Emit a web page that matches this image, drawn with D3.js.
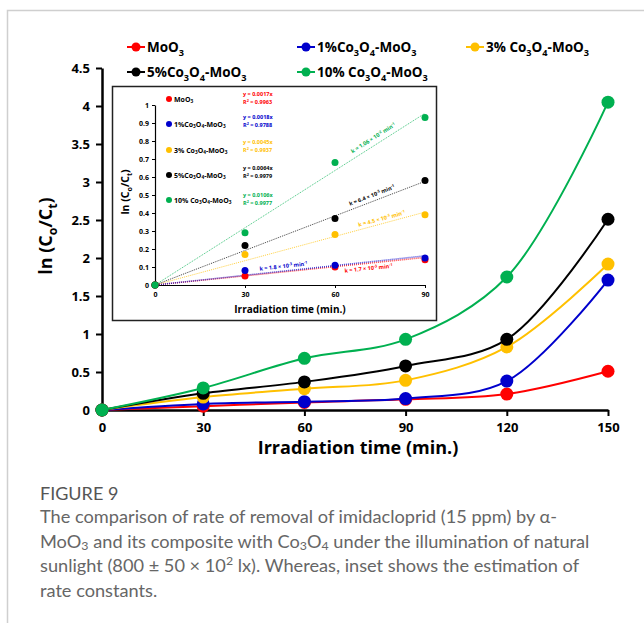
<!DOCTYPE html>
<html>
<head>
<meta charset="utf-8">
<script src="https://cdn.jsdelivr.net/npm/d3@7/dist/d3.min.js"></script>
<style>
  body { margin: 0; background: #fff; }
</style>
</head>
<body>
<div id="chart"></div>
<script>
    // data
    var times = [0, 30, 60, 90, 120, 150];
    var seriesNames = ["MoO_{3}", "1%Co_{3}O_{4}-MoO_{3}", "3% Co_{3}O_{4}-MoO_{3}", "5%Co_{3}O_{4}-MoO_{3}", "10% Co_{3}O_{4}-MoO_{3}"];
    var moo3  = [0, 0.05, 0.10, 0.14, 0.21, 0.51];
    var co1   = [0, 0.08, 0.11, 0.15, 0.38, 1.71];
    var co3   = [0, 0.17, 0.28, 0.39, 0.83, 1.92];
    var co5   = [0, 0.22, 0.37, 0.58, 0.93, 2.51];
    var co10  = [0, 0.29, 0.68, 0.93, 1.75, 4.05];
    var colors = ['#ff0000', '#0000cc', '#ffc000', '#000000', '#00b050'];

    // inset: linear fits through origin
    var insetTimes = [0, 30, 60, 90];
    var slopes = [0.0017, 0.0018, 0.0045, 0.0064, 0.0106];
    var r2 = ["0.9963", "0.9788", "0.9937", "0.9979", "0.9977"];
    var kLabels = ["k = 1.7 × 10^{-3} min^{-1}", "k = 1.8 × 10^{-3} min^{-1}", "k = 4.5 × 10^{-3} min^{-1}",
                   "k = 6.4 × 10^{-3} min^{-1}", "k = 1.06 × 10^{-2} min^{-1}"];

    var yTicks = [0, 0.5, 1, 1.5, 2, 2.5, 3, 3.5, 4, 4.5];
    var insetYTicks = [0, 0.1, 0.2, 0.3, 0.4, 0.5, 0.6, 0.7, 0.8, 0.9, 1];

    var series = [moo3, co1, co3, co5, co10];

    var width = 644, height = 623;
    var font = 'Open Sans';

    var svg = d3.select('#chart').append('svg')
        .attr('width', width)
        .attr('height', height)
        .style('display', 'block');

    // writes "a_{b}" / "a^{b}" as tspans; fs = base font size in px
    function rich(sel, str, fs, subShift) {
        var parts = str.split(/(_\{[^}]*\}|\^\{[^}]*\})/);
        var shift = 0;
        var sub = subShift === undefined ? 0.28 : subShift;
        parts.forEach(function(p) {
            if (!p) return;
            var t = sel.append('tspan');
            var target = 0, txt = p, small = false;
            if (p[0] === '_' && p[1] === '{') { target = fs * sub; txt = p.slice(2, -1); small = true; }
            else if (p[0] === '^' && p[1] === '{') { target = -fs * 0.38; txt = p.slice(2, -1); small = true; }
            if (target !== shift) t.attr('dy', target - shift);
            shift = target;
            if (small) t.attr('font-size', fs * 0.68);
            t.text(txt);
        });
        return sel;
    }

    // page frame
    svg.append('path')
        .attr('d', 'M7.5,' + height + 'V10.5H' + width)
        .attr('fill', 'none')
        .attr('stroke', '#cfcfcf')
        .attr('stroke-width', 1.5);

    // ---------- main chart ----------
    var x = d3.scaleLinear().domain([0, 150]).range([102, 608]);
    var y = d3.scaleLinear().domain([0, 4.5]).range([410, 68]);

    var main = svg.append('g');

    var xAxis = main.append('g')
        .attr('transform', 'translate(0,' + y(0) + ')')
        .call(d3.axisBottom(x).tickValues(times).tickSize(6).tickSizeOuter(0));
    var yAxis = main.append('g')
        .attr('transform', 'translate(' + x(0) + ',0)')
        .call(d3.axisLeft(y).tickValues(yTicks).tickSize(6).tickSizeOuter(0)
            .tickFormat(function(d) { return d; }));

    [xAxis, yAxis].forEach(function(a) {
        a.select('.domain').attr('stroke', '#000').attr('stroke-width', 2.5);
        a.selectAll('.tick line').attr('stroke', '#000').attr('stroke-width', 2);
        a.selectAll('.tick text')
            .attr('font-family', font).attr('font-weight', 'bold')
            .attr('font-size', 13).attr('fill', '#000');
    });
    xAxis.selectAll('.tick text').attr('y', 13);
    yAxis.selectAll('.tick text').attr('x', -12);

    main.append('text')
        .attr('x', 358).attr('y', 454)
        .attr('text-anchor', 'middle')
        .attr('font-family', font).attr('font-weight', 'bold').attr('font-size', 18)
        .text('Irradiation time (min.)');

    rich(main.append('text')
        .attr('transform', 'translate(52,236) rotate(-90)')
        .attr('text-anchor', 'middle')
        .attr('font-family', font).attr('font-weight', 'bold').attr('font-size', 18),
        'ln (C_{o}/C_{t})', 18);

    var line = d3.line()
        .x(function(d, i) { return x(times[i]); })
        .y(function(d) { return y(d); })
        .curve(d3.curveCatmullRom.alpha(0.5));

    var sg = main.selectAll('g.series')
        .data(series)
        .enter().append('g')
        .attr('class', 'series');

    sg.append('path')
        .attr('d', line)
        .attr('fill', 'none')
        .attr('stroke', function(d, i) { return colors[i]; })
        .attr('stroke-width', 2);

    sg.selectAll('circle')
        .data(function(d, i) { return d.map(function(v, j) { return { v: v, t: times[j], c: colors[i] }; }); })
        .enter().append('circle')
        .attr('cx', function(d) { return x(d.t); })
        .attr('cy', function(d) { return y(d.v); })
        .attr('r', 6.5)
        .attr('fill', function(d) { return d.c; });

    // legend
    var legendPos = [[127, 47], [297, 47], [466, 47], [127, 72], [297, 72]];
    var legend = main.selectAll('g.legend-entry')
        .data(seriesNames)
        .enter().append('g')
        .attr('class', 'legend-entry')
        .attr('transform', function(d, i) { return 'translate(' + legendPos[i][0] + ',' + legendPos[i][1] + ')'; });

    legend.append('line')
        .attr('x1', 0).attr('x2', 18)
        .attr('stroke', function(d, i) { return colors[i]; })
        .attr('stroke-width', 2);
    legend.append('circle')
        .attr('cx', 9).attr('r', 4.5)
        .attr('fill', function(d, i) { return colors[i]; });
    legend.each(function(d) {
        rich(d3.select(this).append('text')
            .attr('x', 20).attr('y', 5)
            .attr('font-family', font).attr('font-weight', 'bold').attr('font-size', 13.5),
            d, 13.5);
    });

    // ---------- inset ----------
    var inset = svg.append('g');
    inset.append('rect')
        .attr('x', 112.5).attr('y', 86.5)
        .attr('width', 324).attr('height', 234)
        .attr('fill', '#fff')
        .attr('stroke', '#222')
        .attr('stroke-width', 1.5);

    var ix = d3.scaleLinear().domain([0, 90]).range([155, 425]);
    var iy = d3.scaleLinear().domain([0, 1]).range([285, 105]);

    var ixAxis = inset.append('g')
        .attr('transform', 'translate(0,' + iy(0) + ')')
        .call(d3.axisBottom(ix).tickValues(insetTimes).tickSize(3).tickSizeOuter(0));
    var iyAxis = inset.append('g')
        .attr('transform', 'translate(' + ix(0) + ',0)')
        .call(d3.axisLeft(iy).tickValues(insetYTicks).tickSize(3).tickSizeOuter(0)
            .tickFormat(function(d) { return d; }));
    [ixAxis, iyAxis].forEach(function(a) {
        a.select('.domain').attr('stroke', '#000').attr('stroke-width', 1.2);
        a.selectAll('.tick line').attr('stroke', '#000');
        a.selectAll('.tick text')
            .attr('font-family', font).attr('font-weight', 'bold')
            .attr('font-size', 7).attr('fill', '#000');
    });
    ixAxis.selectAll('.tick text').attr('y', 7);
    iyAxis.selectAll('.tick text').attr('x', -6);

    inset.append('text')
        .attr('x', 290).attr('y', 313)
        .attr('text-anchor', 'middle')
        .attr('font-family', font).attr('font-weight', 'bold').attr('font-size', 10)
        .text('Irradiation time (min.)');
    rich(inset.append('text')
        .attr('transform', 'translate(129,192) rotate(-90)')
        .attr('text-anchor', 'middle')
        .attr('font-family', font).attr('font-weight', 'bold').attr('font-size', 10.5),
        'ln (C_{o}/C_{t})', 10.5);

    // fit lines
    inset.selectAll('line.fit')
        .data(slopes)
        .enter().append('line')
        .attr('class', 'fit')
        .attr('x1', ix(0)).attr('y1', iy(0))
        .attr('x2', ix(90)).attr('y2', function(k) { return iy(k * 90); })
        .attr('stroke', function(k, i) { return colors[i]; })
        .attr('stroke-opacity', 0.75)
        .attr('stroke-width', function(k, i) { return i < 2 ? 1.5 : 1; })
        .attr('stroke-dasharray', '1,1');

    // inset points
    var ig = inset.selectAll('g.ipts')
        .data(series)
        .enter().append('g')
        .attr('class', 'ipts');
    ig.selectAll('circle')
        .data(function(d, i) { return insetTimes.map(function(t, j) { return { v: d[j], t: t, c: colors[i] }; }); })
        .enter().append('circle')
        .attr('cx', function(d) { return ix(d.t); })
        .attr('cy', function(d) { return iy(d.v); })
        .attr('r', 3.5)
        .attr('fill', function(d) { return d.c; });

    // k labels along the fit lines
    var kPos = [{ t: 71, dy: 7 }, { t: 43, dy: -3 }, { t: 76, dy: -3 }, { t: 73, dy: -4 }, { t: 74, dy: -5 }];
    slopes.forEach(function(k, i) {
        var px = ix(kPos[i].t), py = iy(k * kPos[i].t);
        var ang = Math.atan2(iy(k * 90) - iy(0), ix(90) - ix(0)) * 180 / Math.PI;
        rich(inset.append('text')
            .attr('transform', 'translate(' + px + ',' + py + ') rotate(' + ang + ')')
            .attr('y', kPos[i].dy)
            .attr('text-anchor', 'middle')
            .attr('font-family', font).attr('font-weight', 'bold').attr('font-size', 5.5)
            .attr('fill', colors[i]),
            kLabels[i], 5.5);
    });

    // inset legend
    var ilegY = [99, 124, 150, 175, 200];
    var ileg = inset.selectAll('g.ileg')
        .data(seriesNames)
        .enter().append('g')
        .attr('class', 'ileg')
        .attr('transform', function(d, i) { return 'translate(169,' + ilegY[i] + ')'; });
    ileg.append('circle')
        .attr('r', 3)
        .attr('fill', function(d, i) { return colors[i]; });
    ileg.each(function(d) {
        rich(d3.select(this).append('text')
            .attr('x', 5).attr('y', 2.5)
            .attr('font-family', font).attr('font-weight', 'bold').attr('font-size', 7),
            d, 7);
    });

    // fit equations
    var eqY = [96, 119, 144, 170, 197];
    slopes.forEach(function(k, i) {
        var t = inset.append('text')
            .attr('x', 243).attr('y', eqY[i])
            .attr('font-family', font).attr('font-weight', 'bold').attr('font-size', 5.5)
            .attr('fill', colors[i]);
        t.append('tspan').attr('x', 243).text('y = ' + k + 'x');
        rich(t.append('tspan').attr('x', 243).attr('dy', 8), 'R^{2} = ' + r2[i], 5.5);
    });

    // ---------- caption ----------
    var cap = svg.append('g')
        .attr('font-family', 'Lato')
        .attr('fill', '#666');
    cap.append('text')
        .attr('x', 40).attr('y', 500)
        .attr('font-size', 18)
        .attr('fill', '#555')
        .text('FIGURE 9');
    var capLines = [
        'The comparison of rate of removal of imidacloprid (15 ppm) by α-',
        'MoO_{3} and its composite with Co_{3}O_{4} under the illumination of natural',
        'sunlight (800 ± 50 × 10^{2} lx). Whereas, inset shows the estimation of',
        'rate constants.'
    ];
    capLines.forEach(function(s, i) {
        rich(cap.append('text')
            .attr('x', 40).attr('y', 523 + i * 24.5)
            .attr('font-size', 18.2), s, 18.2, 0.12);
    });
</script>
</body>
</html>
